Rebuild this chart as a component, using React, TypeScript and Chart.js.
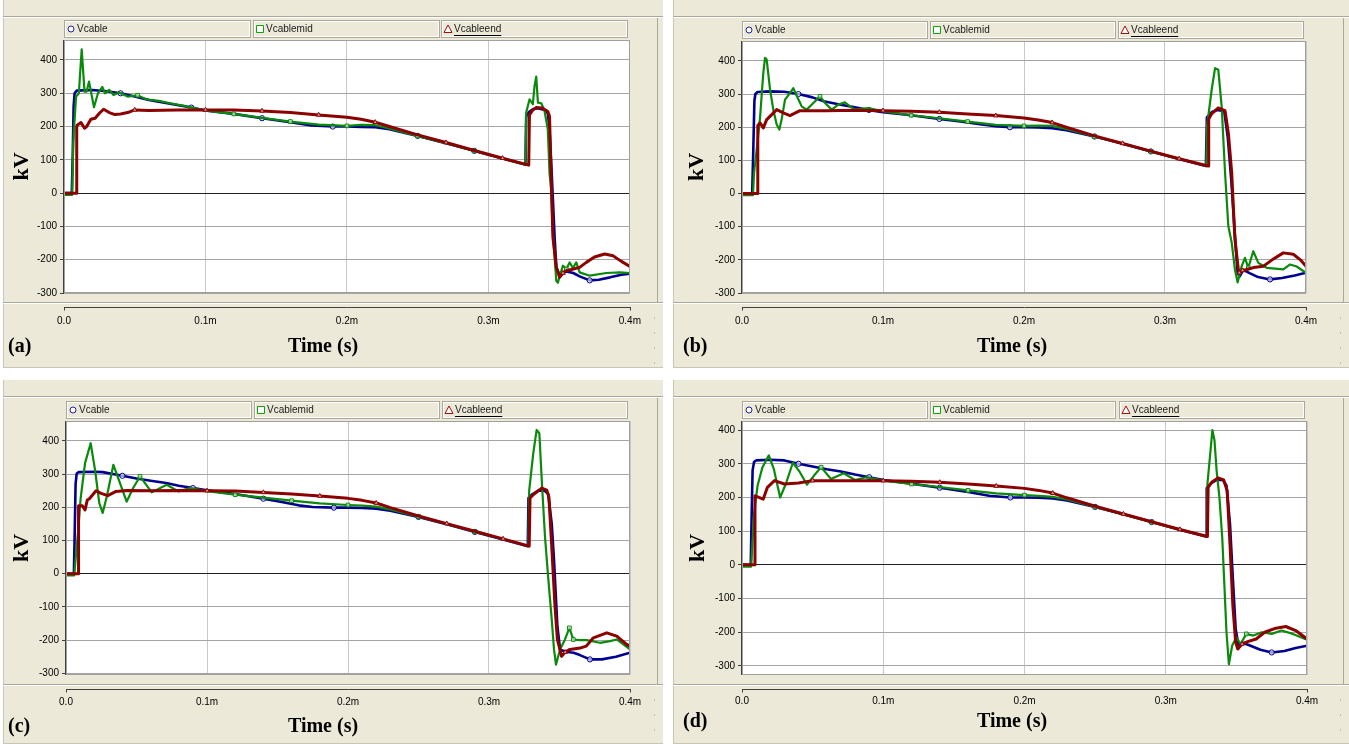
import React, { useEffect, useRef } from "react";
import { Chart, registerables } from "chart.js";
Chart.register(...registerables);

type Pt = [number, number]; // [time in ms, kV]

// ---------------- Panel (a) ----------------
const aVcable: Pt[] = [[0,0],[0.0055,0],[0.0062,120],[0.0068,260],[0.0075,300],[0.009,308],[0.02,310],[0.03,306],[0.04,300],[0.05,290],[0.06,280],[0.07,272],[0.08,265],[0.09,257],[0.1,248],[0.12,238],[0.14,225],[0.16,213],[0.175,203],[0.19,200],[0.2,200],[0.21,199],[0.22,198],[0.23,192],[0.25,172],[0.27,150],[0.29,127],[0.31,104],[0.3262,86],[0.3267,230],[0.329,245],[0.3314,252],[0.335,255],[0.3397,250],[0.342,240],[0.3432,190],[0.3444,90],[0.3456,-20],[0.3468,-132],[0.348,-223],[0.3503,-245],[0.3551,-235],[0.36,-240],[0.3645,-250],[0.3716,-262],[0.378,-260],[0.386,-253],[0.394,-245],[0.4,-242]];
const aVcablemid: Pt[] = [[0,-5],[0.0058,-5],[0.0065,150],[0.0085,290],[0.0105,300],[0.0125,432],[0.0145,305],[0.016,305],[0.0177,335],[0.0212,258],[0.024,300],[0.0271,319],[0.029,300],[0.032,310],[0.035,295],[0.039,302],[0.045,290],[0.052,294],[0.058,282],[0.067,277],[0.075,270],[0.085,262],[0.1,248],[0.12,238],[0.14,226],[0.16,215],[0.18,206],[0.2,202],[0.21,205],[0.22,204],[0.23,194],[0.25,172],[0.27,150],[0.29,127],[0.31,104],[0.3262,85],[0.3267,242],[0.3291,282],[0.3314,267],[0.3326,322],[0.3338,350],[0.335,272],[0.3374,270],[0.3397,246],[0.342,191],[0.3432,60],[0.3444,9],[0.3456,-121],[0.348,-264],[0.3491,-269],[0.3503,-250],[0.3527,-218],[0.3551,-228],[0.3574,-208],[0.3597,-225],[0.3621,-208],[0.3645,-238],[0.3716,-248],[0.3834,-240],[0.3928,-238],[0.4,-240]];
const aVcableend: Pt[] = [[0,0],[0.0085,0],[0.009,200],[0.0095,205],[0.012,212],[0.0145,195],[0.016,200],[0.019,222],[0.022,225],[0.025,240],[0.028,252],[0.032,242],[0.036,236],[0.04,238],[0.045,242],[0.05,250],[0.06,248],[0.08,250],[0.1,250],[0.12,250],[0.14,247],[0.16,242],[0.18,235],[0.2,228],[0.21,222],[0.22,213],[0.23,200],[0.25,175],[0.27,152],[0.29,128],[0.31,105],[0.3285,84],[0.329,235],[0.3314,250],[0.3338,257],[0.338,256],[0.342,245],[0.3432,231],[0.3444,40],[0.3456,-133],[0.348,-223],[0.3503,-253],[0.3527,-240],[0.3551,-233],[0.36,-228],[0.3645,-223],[0.3692,-208],[0.375,-192],[0.3822,-183],[0.388,-188],[0.394,-205],[0.4,-220]];

// ---------------- Panel (b) ----------------
const bVcable: Pt[] = [[0,0],[0.0072,0],[0.008,130],[0.0088,280],[0.0095,300],[0.011,306],[0.02,308],[0.03,307],[0.04,300],[0.05,290],[0.058,278],[0.07,268],[0.08,260],[0.09,252],[0.1,245],[0.12,236],[0.14,225],[0.155,217],[0.17,208],[0.18,203],[0.19,200],[0.2,200],[0.21,199],[0.22,197],[0.23,191],[0.25,172],[0.27,150],[0.29,127],[0.31,104],[0.329,83],[0.3297,230],[0.333,245],[0.337,252],[0.342,248],[0.3445,170],[0.347,40],[0.3495,-120],[0.3515,-240],[0.353,-250],[0.3555,-230],[0.36,-240],[0.366,-252],[0.3745,-259],[0.383,-255],[0.392,-247],[0.4,-239]];
const bVcablemid: Pt[] = [[0,-5],[0.0078,-5],[0.0085,60],[0.0104,132],[0.0128,229],[0.0151,363],[0.0163,409],[0.0175,404],[0.0199,313],[0.0222,253],[0.0246,208],[0.0265,193],[0.0281,223],[0.0305,283],[0.034,303],[0.0364,318],[0.0388,295],[0.0423,263],[0.0459,253],[0.0506,273],[0.0553,293],[0.0589,273],[0.0636,253],[0.0683,268],[0.073,275],[0.0766,263],[0.0801,253],[0.0896,258],[0.1,248],[0.12,236],[0.14,227],[0.16,217],[0.18,207],[0.2,204],[0.21,205],[0.22,204],[0.23,195],[0.25,172],[0.27,150],[0.29,127],[0.31,104],[0.3293,83],[0.3298,203],[0.3331,313],[0.3355,378],[0.3378,373],[0.3402,263],[0.3426,62],[0.3449,-98],[0.3473,-148],[0.3496,-229],[0.3515,-268],[0.3544,-219],[0.3567,-194],[0.3591,-224],[0.3626,-174],[0.3662,-209],[0.3721,-224],[0.3839,-229],[0.3887,-214],[0.3934,-220],[0.4,-239]];
const bVcableend: Pt[] = [[0,0],[0.0108,0],[0.0112,205],[0.0128,213],[0.0151,198],[0.0175,223],[0.0211,238],[0.0246,253],[0.0293,243],[0.034,235],[0.0411,250],[0.06,250],[0.08,251],[0.1,250],[0.12,248],[0.14,245],[0.16,240],[0.18,235],[0.2,228],[0.21,222],[0.22,214],[0.23,200],[0.25,174],[0.27,151],[0.29,128],[0.31,105],[0.3305,83],[0.331,225],[0.333,240],[0.3378,258],[0.3426,250],[0.345,180],[0.3473,63],[0.3496,-138],[0.352,-229],[0.3527,-239],[0.355,-232],[0.358,-229],[0.364,-222],[0.3698,-219],[0.376,-200],[0.3839,-179],[0.391,-183],[0.396,-200],[0.4,-219]];

// ---------------- Panel (c) ----------------
const cVcable: Pt[] = [[0,0],[0.0056,0],[0.0062,130],[0.0068,270],[0.0076,302],[0.009,306],[0.02,307],[0.026,306],[0.04,295],[0.05,287],[0.06,280],[0.071,273],[0.08,265],[0.09,258],[0.1,251],[0.12,240],[0.14,226],[0.152,217],[0.165,206],[0.175,201],[0.19,199],[0.2,199],[0.21,198],[0.22,196],[0.23,190],[0.25,171],[0.27,149],[0.29,126],[0.31,103],[0.3275,83],[0.328,228],[0.331,240],[0.335,250],[0.3395,250],[0.342,240],[0.3445,150],[0.3461,42],[0.3485,-158],[0.3504,-228],[0.354,-235],[0.36,-238],[0.3645,-245],[0.3716,-258],[0.38,-258],[0.39,-250],[0.4,-238]];
const cVcablemid: Pt[] = [[0,-5],[0.0058,-5],[0.0087,132],[0.0104,228],[0.0135,333],[0.0175,393],[0.0206,313],[0.0236,213],[0.026,183],[0.0289,232],[0.0336,328],[0.0383,273],[0.043,217],[0.0477,259],[0.0525,293],[0.0608,245],[0.0714,268],[0.0797,248],[0.088,258],[0.1,249],[0.12,238],[0.14,229],[0.16,220],[0.18,212],[0.2,207],[0.21,205],[0.22,202],[0.23,194],[0.25,172],[0.27,150],[0.29,127],[0.31,104],[0.3279,83],[0.3285,250],[0.3314,363],[0.3338,433],[0.3357,423],[0.3374,283],[0.3397,112],[0.3421,-18],[0.3445,-138],[0.3461,-228],[0.3475,-274],[0.3504,-228],[0.3539,-198],[0.357,-163],[0.3598,-198],[0.3645,-200],[0.3693,-200],[0.3787,-208],[0.3858,-203],[0.3906,-198],[0.4,-228]];
const cVcableend: Pt[] = [[0,0],[0.0086,0],[0.0089,205],[0.0116,205],[0.0135,192],[0.0151,222],[0.0166,226],[0.0213,250],[0.0249,242],[0.0296,235],[0.0355,248],[0.043,251],[0.06,250],[0.08,251],[0.1,250],[0.12,249],[0.14,245],[0.16,240],[0.18,234],[0.2,227],[0.21,221],[0.22,213],[0.23,199],[0.25,174],[0.27,151],[0.29,128],[0.31,105],[0.3285,83],[0.3291,228],[0.332,240],[0.3374,258],[0.341,252],[0.3425,230],[0.3445,82],[0.3468,-98],[0.3485,-198],[0.3515,-249],[0.354,-236],[0.3574,-228],[0.3645,-224],[0.369,-218],[0.374,-193],[0.3835,-178],[0.3906,-188],[0.3976,-213],[0.4,-218]];

// ---------------- Panel (d) ----------------
const dVcable: Pt[] = [[0,0],[0.0062,0],[0.0068,140],[0.0075,280],[0.0085,305],[0.01,310],[0.02,312],[0.03,310],[0.04,300],[0.05,292],[0.06,284],[0.07,277],[0.08,268],[0.09,260],[0.1,252],[0.12,241],[0.14,229],[0.16,216],[0.175,205],[0.19,200],[0.2,200],[0.21,199],[0.22,197],[0.23,191],[0.25,172],[0.27,150],[0.29,127],[0.31,104],[0.3285,84],[0.329,228],[0.332,242],[0.336,252],[0.3405,252],[0.343,235],[0.3455,120],[0.3475,-40],[0.3495,-190],[0.3515,-240],[0.355,-232],[0.36,-240],[0.367,-252],[0.375,-260],[0.384,-256],[0.392,-247],[0.4,-240]];
const dVcablemid: Pt[] = [[0,-5],[0.0065,-5],[0.0085,150],[0.011,235],[0.0145,290],[0.019,325],[0.0225,285],[0.027,200],[0.031,240],[0.036,303],[0.041,275],[0.046,238],[0.051,265],[0.056,290],[0.063,255],[0.072,272],[0.08,252],[0.088,260],[0.1,250],[0.12,240],[0.14,231],[0.16,221],[0.18,212],[0.2,207],[0.21,205],[0.22,202],[0.23,194],[0.25,172],[0.27,150],[0.29,127],[0.31,104],[0.329,84],[0.3295,240],[0.3315,330],[0.333,400],[0.3345,370],[0.336,280],[0.338,200],[0.34,80],[0.3415,-60],[0.343,-200],[0.3447,-295],[0.347,-240],[0.35,-215],[0.353,-235],[0.357,-205],[0.362,-210],[0.368,-200],[0.375,-205],[0.382,-195],[0.39,-205],[0.4,-222]];
const dVcableend: Pt[] = [[0,0],[0.0088,0],[0.0092,205],[0.012,200],[0.015,195],[0.018,230],[0.023,250],[0.03,240],[0.04,243],[0.05,250],[0.07,250],[0.1,250],[0.12,248],[0.14,245],[0.16,240],[0.18,234],[0.2,227],[0.21,221],[0.22,213],[0.23,199],[0.25,174],[0.27,151],[0.29,128],[0.31,105],[0.3295,84],[0.33,230],[0.3325,245],[0.337,258],[0.341,252],[0.3435,220],[0.3455,60],[0.3475,-120],[0.3495,-230],[0.351,-250],[0.354,-235],[0.358,-228],[0.364,-220],[0.37,-200],[0.378,-188],[0.385,-183],[0.392,-195],[0.4,-220]];

// times (ms) at which the plot program put its small series markers
const vcableMarkTimes = [0.04, 0.09, 0.14, 0.19, 0.25, 0.29, 0.3716, 0.3745, 0.375];
const vcablemidMarkTimes = [0.052, 0.0525, 0.0553, 0.056, 0.12, 0.16, 0.2, 0.25, 0.29, 0.3551, 0.3591, 0.3598, 0.357];
const vcableendMarkTimes = [0.05, 0.1, 0.14, 0.18, 0.22, 0.27, 0.31, 0.3527, 0.354, 0.355];

const seriesNames = ["Vcable", "Vcablemid", "Vcableend"];
const panelLabels = ["(a)", "(b)", "(c)", "(d)"];
const xTickValues = [0, 0.1, 0.2, 0.3, 0.4];
const xTickLabels = ["0.0", "0.1m", "0.2m", "0.3m", "0.4m"];
const yTickValues = [-300, -200, -100, 0, 100, 200, 300, 400];
const yAxisTitle = "kV";
const xAxisTitle = "Time (s)";

const PANEL_SERIES: Pt[][][] = [
  [aVcable, aVcablemid, aVcableend],
  [bVcable, bVcablemid, bVcableend],
  [cVcable, cVcablemid, cVcableend],
  [dVcable, dVcablemid, dVcableend],
];
const MARK_TIMES = [vcableMarkTimes, vcablemidMarkTimes, vcableendMarkTimes];

// ---------------- styling / geometry (page pixels) ----------------
const BEIGE = "#ECE9D8";
const EDGE = "#aca899";
const COLORS = ["#000090", "#0a8a0a", "#8c0000"];
const LEGEND_MARK_COLORS = ["#2020b0", "#10a010", "#a01010"];
const WIDTHS = [2.6, 2.2, 3];
const POINT_STYLES = ["circle", "rect", "triangle"];
const SANS = "'Liberation Sans', Arial, sans-serif";
const SERIF = "'Liberation Serif', 'Times New Roman', serif";

type Geo = {
  x: number; y: number; w: number; h: number;
  L: number; R: number; T: number; B: number;
  yMin: number; yMax: number;
  kvX: number; rulerY: number; xLabY: number; titleY: number; timeX: number; labX: number;
};

const GEO: Geo[] = [
  { x: 3, y: 0, w: 660, h: 368, L: 64, R: 630, T: 40, B: 293, yMin: -300, yMax: 460, kvX: 22, rulerY: 307, xLabY: 321, titleY: 347, timeX: 323, labX: 8 },
  { x: 673, y: 0, w: 676, h: 368, L: 742, R: 1306, T: 41, B: 293, yMin: -300, yMax: 460, kvX: 697, rulerY: 307, xLabY: 321, titleY: 347, timeX: 1012, labX: 683 },
  { x: 3, y: 380, w: 660, h: 364, L: 66, R: 630, T: 421, B: 675, yMin: -305, yMax: 460, kvX: 22, rulerY: 689, xLabY: 702, titleY: 727, timeX: 323, labX: 8 },
  { x: 673, y: 380, w: 676, h: 364, L: 742, R: 1307, T: 421, B: 675, yMin: -327, yMax: 427, kvX: 698, rulerY: 689, xLabY: 701, titleY: 722, timeX: 1012, labX: 683 },
];

function hline(ctx: CanvasRenderingContext2D, x0: number, x1: number, y: number, c: string) {
  ctx.strokeStyle = c; ctx.lineWidth = 1;
  ctx.beginPath(); ctx.moveTo(x0, y); ctx.lineTo(x1, y); ctx.stroke();
}
function vline(ctx: CanvasRenderingContext2D, x: number, y0: number, y1: number, c: string) {
  ctx.strokeStyle = c; ctx.lineWidth = 1;
  ctx.beginPath(); ctx.moveTo(x, y0); ctx.lineTo(x, y1); ctx.stroke();
}

function decorPlugin(g: Geo, idx: number) {
  return {
    id: "decor" + idx,
    beforeDraw(chart: any) {
      const { ctx, width, height, chartArea: ca } = chart;
      ctx.save();
      ctx.fillStyle = BEIGE;
      ctx.fillRect(0, 0, width, height);
      vline(ctx, 0.5, 0, height, "#c9c6b6");
      hline(ctx, 0, width, height - 0.5, "#c9c6b6");
      hline(ctx, 0, width, 16.5, EDGE);
      hline(ctx, 0, width, 17.5, "#ffffff");
      const gb = Math.round(ca.bottom) + 9.5;
      hline(ctx, 0, width, gb, EDGE);
      hline(ctx, 0, width, gb + 1, "#ffffff");
      vline(ctx, width - 5.5, 18, gb, EDGE);
      ctx.fillStyle = "#ffffff";
      ctx.fillRect(ca.left, ca.top, ca.right - ca.left, ca.bottom - ca.top);
      ctx.restore();
    },
    afterDraw(chart: any) {
      const { ctx, width, chartArea: ca } = chart;
      const xs = chart.scales.x;
      ctx.save();
      ctx.strokeStyle = "#a0a0a0"; ctx.lineWidth = 1;
      ctx.strokeRect(Math.round(ca.left) + 0.5, Math.round(ca.top) + 0.5, Math.round(ca.right - ca.left) - 1, Math.round(ca.bottom - ca.top) - 1);
      vline(ctx, Math.round(ca.left) - 0.5, ca.top, ca.bottom, "#404040");

      // legend boxes
      const lw = (ca.right - ca.left) / 3;
      const by = Math.round(ca.top) - 20;
      for (let i = 0; i < 3; i++) {
        const bx = Math.round(ca.left + i * lw);
        const bw = Math.round(lw) - 2;
        ctx.fillStyle = BEIGE;
        ctx.fillRect(bx, by, bw, 18);
        ctx.lineWidth = 1;
        ctx.strokeStyle = "#ffffff";
        ctx.strokeRect(bx + 1.5, by + 1.5, bw - 3, 15);
        ctx.strokeStyle = EDGE;
        ctx.strokeRect(bx + 0.5, by + 0.5, bw - 1, 17);
        const mx = bx + 7, my = by + 9;
        ctx.fillStyle = "#ffffff";
        ctx.strokeStyle = LEGEND_MARK_COLORS[i];
        ctx.lineWidth = 1;
        ctx.beginPath();
        if (i === 0) ctx.arc(mx, my, 3, 0, Math.PI * 2);
        else if (i === 1) ctx.rect(mx - 3.5, my - 3.5, 7, 7);
        else { ctx.moveTo(mx, my - 4); ctx.lineTo(mx + 4, my + 3.5); ctx.lineTo(mx - 4, my + 3.5); ctx.closePath(); }
        ctx.fill();
        ctx.stroke();
        ctx.font = "10px " + SANS;
        ctx.textBaseline = "middle";
        ctx.fillStyle = "#202020";
        ctx.textAlign = "left";
        ctx.fillText(seriesNames[i], mx + 6, my + 0.5);
        if (i === 2) {
          const tw = ctx.measureText(seriesNames[i]).width;
          hline(ctx, mx + 6, mx + 6 + tw, my + 6.5, "#000000");
        }
      }

      // x ruler
      const rx0 = Math.round(xs.getPixelForValue(xTickValues[0]));
      const rx1 = Math.round(xs.getPixelForValue(xTickValues[xTickValues.length - 1]));
      const ry = g.rulerY - g.y + 0.5;
      hline(ctx, rx0, rx1 + 1, ry, "#404040");
      vline(ctx, rx0 + 0.5, ry, ry + 3, "#404040");
      vline(ctx, rx1 + 0.5, ry, ry + 3, "#404040");

      ctx.fillStyle = "#9a9a9a";
      for (let k = 0; k < 4; k++) ctx.fillRect(width - 9, ry + 10 + k * 15, 1, 1);

      ctx.fillStyle = "#000000";
      ctx.font = "bold 20px " + SERIF;
      ctx.textBaseline = "middle";
      ctx.textAlign = "left";
      ctx.fillText(panelLabels[idx], g.labX - g.x, g.titleY - g.y);
      ctx.textAlign = "center";
      ctx.fillText(xAxisTitle, g.timeX - g.x, g.titleY - g.y);
      ctx.restore();
    },
  };
}

function Panel({ g, idx }: { g: Geo; idx: number }) {
  const ref = useRef<HTMLCanvasElement>(null);
  useEffect(() => {
    const canvas = ref.current;
    if (!canvas) return;
    const series = PANEL_SERIES[idx];
    const datasets = series.map((pts, i) => {
      const marks = MARK_TIMES[i];
      return {
        label: seriesNames[i],
        data: pts.map((p) => ({ x: p[0], y: p[1] })),
        borderColor: COLORS[i],
        backgroundColor: COLORS[i],
        borderWidth: WIDTHS[i],
        borderJoinStyle: "round" as const,
        borderCapStyle: "round" as const,
        pointStyle: POINT_STYLES[i],
        pointRadius: (c: any) => (c.raw && marks.includes(c.raw.x) ? 2.6 : 0),
        pointBorderWidth: 1,
        pointBorderColor: COLORS[i],
        pointBackgroundColor: "rgba(255,255,255,0.6)",
        tension: 0,
        fill: false,
        order: 3 - i,
      };
    });
    const chart = new Chart(canvas, {
      type: "line",
      data: { datasets },
      options: {
        responsive: false,
        animation: false,
        devicePixelRatio: 1,
        events: [],
        layout: { padding: { top: g.T - g.y, right: g.w - (g.R - g.x), left: 0, bottom: 0 } },
        plugins: { legend: { display: false }, tooltip: { enabled: false }, title: { display: false } },
        scales: {
          x: {
            type: "linear",
            min: xTickValues[0],
            max: xTickValues[xTickValues.length - 1],
            afterBuildTicks: (axis: any) => { axis.ticks = xTickValues.map((v) => ({ value: v })); },
            afterFit: (s: any) => { s.height = g.y + g.h - g.B; },
            ticks: {
              autoSkip: false,
              maxRotation: 0,
              padding: g.xLabY - g.B - 6,
              color: "#000000",
              font: { family: SANS, size: 10 },
              callback: (_v: any, i: number) => xTickLabels[i],
            },
            grid: { color: "#c8c8c8", drawTicks: false, lineWidth: 1 },
            border: { display: false },
          },
          y: {
            type: "linear",
            min: g.yMin,
            max: g.yMax,
            afterBuildTicks: (axis: any) => { axis.ticks = yTickValues.map((v) => ({ value: v })); },
            afterFit: (s: any) => { s.width = g.L - g.x; },
            ticks: { color: "#000000", font: { family: SANS, size: 10 }, padding: 3 },
            grid: {
              color: (c: any) => (c.tick && c.tick.value === 0 ? "#202020" : "#a4a4a4"),
              tickColor: "#404040",
              tickLength: 4,
              lineWidth: 1,
            },
            border: { display: false },
            title: {
              display: true,
              text: yAxisTitle,
              color: "#000000",
              font: { family: SERIF, size: 22, weight: "bold" },
              padding: { top: g.kvX - g.x - 13.2, bottom: 0 },
            },
          },
        },
      },
      plugins: [decorPlugin(g, idx)],
    } as any);
    return () => chart.destroy();
  }, []);
  return (
    <canvas
      ref={ref}
      width={g.w}
      height={g.h}
      style={{ position: "absolute", left: g.x, top: g.y, width: g.w, height: g.h }}
    />
  );
}

export default function App() {
  return (
    <div style={{ position: "absolute", left: 0, top: 0, width: 1349, height: 744, background: "#ffffff", overflow: "hidden" }}>
      {GEO.map((g, i) => (
        <Panel key={i} g={g} idx={i} />
      ))}
    </div>
  );
}
